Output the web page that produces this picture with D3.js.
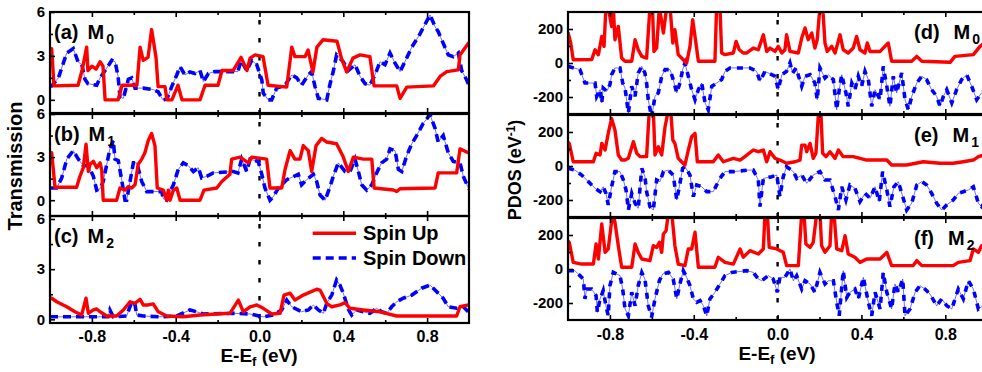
<!DOCTYPE html>
<html>
<head>
<meta charset="utf-8">
<script src="https://cdn.jsdelivr.net/npm/d3@7"></script>
<style>
  body { margin: 0; background: #fff; }
  svg { display: block; font-family: "Liberation Sans", Arial, sans-serif; font-weight: bold; }
</style>
</head>
<body>
<svg id="chart" width="982" height="372"></svg>
<script>
// ---- tick values / labels ----
const energyTicks = [-0.8, -0.4, 0.0, 0.4, 0.8];
const energyMinor = [-0.6, -0.2, 0.2, 0.6];
const transTicks = [0, 3, 6];
const transMinor = [1.5, 4.5];
const pdosTicks = [-200, 0, 200];
const pdosMinor = [-100, 100];
const seriesNames = ["Spin Up", "Spin Down"];
const panelTags = ["(a)", "(b)", "(c)", "(d)", "(e)", "(f)"];
const panelSubs = ["0", "1", "2", "0", "1", "2"];

// ---- transmission, [E-Ef (eV), T] ----
const transUpA = [[-1.0,3.5],[-0.992,3.5],[-0.981,0.95],[-0.866,1.0],[-0.847,2.0],[-0.825,3.6],[-0.819,2.0],[-0.8,2.3],[-0.78,2.1],[-0.761,2.6],[-0.747,2.3],[-0.737,0],[-0.675,0],[-0.656,1.0],[-0.585,1.0],[-0.57,3.6],[-0.555,2.7],[-0.532,2.9],[-0.515,4.8],[-0.494,2.9],[-0.484,0.9],[-0.451,0.9],[-0.442,0],[-0.418,0],[-0.389,1.0],[-0.37,0],[-0.284,0],[-0.26,1.0],[-0.198,1.0],[-0.179,2.0],[-0.126,2.0],[-0.088,2.9],[-0.06,2.0],[-0.045,2.85],[-0.021,3.07],[0.017,2.95],[0.041,1.0],[0.13,0.87],[0.154,3.6],[0.169,2.95],[0.217,2.95],[0.232,3.4],[0.255,1.9],[0.274,3.6],[0.303,4.1],[0.37,4.0],[0.392,2.8],[0.416,1.9],[0.446,2.85],[0.48,3.07],[0.527,2.95],[0.547,0.95],[0.655,0.95],[0.671,0.1],[0.703,0.87],[0.83,0.95],[0.862,1.6],[0.894,1.93],[0.949,2.05],[0.957,3.07],[0.997,3.86],[1.0,3.9]];
const transDownA = [[-1.0,0.95],[-0.992,0.95],[-0.96,1.5],[-0.92,3.2],[-0.889,3.5],[-0.866,2.6],[-0.848,2.4],[-0.833,1.4],[-0.819,1.1],[-0.777,1.0],[-0.761,1.5],[-0.737,2.0],[-0.705,2.7],[-0.689,2.6],[-0.675,1.6],[-0.666,0.2],[-0.65,0.1],[-0.626,1.4],[-0.61,1.5],[-0.594,0.8],[-0.555,0.8],[-0.507,0.7],[-0.484,0.55],[-0.461,0],[-0.442,0.05],[-0.419,0.9],[-0.395,1.7],[-0.379,2.27],[-0.356,1.7],[-0.332,1.9],[-0.308,1.8],[-0.284,2.0],[-0.268,1.25],[-0.244,1.8],[-0.212,1.93],[-0.103,1.93],[-0.088,2.7],[-0.061,2.0],[-0.037,2.7],[-0.013,2.4],[0.011,1.36],[0.018,0.45],[0.042,0],[0.058,0],[0.082,0.8],[0.122,1.0],[0.154,1.7],[0.178,1.5],[0.201,1.0],[0.233,1.7],[0.249,1.93],[0.265,0.9],[0.281,0.1],[0.321,0],[0.337,1.1],[0.352,1.93],[0.368,3.07],[0.4,2.6],[0.424,2.0],[0.456,2.4],[0.48,1.6],[0.504,1.1],[0.527,1.0],[0.551,1.7],[0.575,2.6],[0.599,2.4],[0.623,3.2],[0.647,2.5],[0.671,1.93],[0.694,2.6],[0.727,3.6],[0.766,4.5],[0.814,5.8],[0.838,5.0],[0.853,4.66],[0.877,3.86],[0.901,3.07],[0.925,2.95],[0.949,3.2],[0.965,2.0],[0.989,1.36],[1.0,1.0]];
const transUpB = [[-1.0,3.3],[-0.992,3.3],[-0.976,0.9],[-0.873,0.9],[-0.857,1.66],[-0.841,2.26],[-0.828,3.9],[-0.817,2.0],[-0.809,2.5],[-0.793,2.7],[-0.777,2.26],[-0.761,2.6],[-0.753,2.1],[-0.746,0],[-0.682,0],[-0.666,0.85],[-0.642,0.7],[-0.626,0.95],[-0.61,0.85],[-0.594,1.07],[-0.579,2.5],[-0.562,2.86],[-0.547,3.3],[-0.531,4.16],[-0.515,4.64],[-0.499,3.8],[-0.488,0.85],[-0.459,0.7],[-0.443,0],[-0.435,0.7],[-0.427,0],[-0.411,0.7],[-0.395,0.85],[-0.379,0],[-0.284,0],[-0.265,0.7],[-0.204,0.85],[-0.18,1.3],[-0.141,1.8],[-0.133,2.86],[-0.093,3.0],[-0.053,2.6],[-0.037,3.0],[0.034,2.86],[0.05,0.85],[0.106,0.85],[0.122,2.14],[0.146,3.45],[0.169,2.86],[0.193,2.86],[0.209,3.8],[0.233,3.45],[0.249,2.0],[0.27,3.8],[0.297,4.3],[0.321,4.05],[0.368,3.93],[0.4,3.0],[0.424,2.0],[0.448,3.0],[0.495,2.86],[0.536,2.86],[0.547,0.85],[0.639,0.71],[0.655,0.6],[0.671,0.8],[0.838,0.85],[0.853,1.9],[0.941,1.9],[0.957,3.57],[0.997,3.3],[1.0,3.3]];
const transDownB = [[-1.0,0.85],[-0.968,0.85],[-0.944,1.55],[-0.92,2.86],[-0.889,3.45],[-0.865,2.86],[-0.841,2.4],[-0.817,2.4],[-0.793,1.66],[-0.777,0.7],[-0.761,0.8],[-0.746,1.3],[-0.729,2.5],[-0.714,3.57],[-0.698,4.16],[-0.69,2.86],[-0.674,2.75],[-0.658,1.43],[-0.642,0],[-0.634,0],[-0.618,1.3],[-0.602,2.6],[-0.586,2.6],[-0.562,1.3],[-0.538,0.6],[-0.467,0.6],[-0.459,0.1],[-0.443,0],[-0.427,0.6],[-0.411,1.07],[-0.388,2.14],[-0.364,2.6],[-0.34,2.4],[-0.316,2.0],[-0.292,2.26],[-0.276,1.55],[-0.252,1.66],[-0.221,1.9],[-0.125,2.0],[-0.103,1.9],[-0.085,2.86],[-0.061,2.0],[-0.045,2.86],[-0.006,2.7],[0.011,1.8],[0.026,0.85],[0.05,0],[0.066,0.25],[0.09,0.85],[0.13,1.43],[0.185,1.8],[0.201,1.07],[0.225,1.43],[0.257,1.8],[0.273,1.3],[0.289,0.36],[0.313,0],[0.337,0.95],[0.352,1.66],[0.376,2.6],[0.408,2.0],[0.432,2.0],[0.456,2.86],[0.472,2.0],[0.488,1.07],[0.512,0.7],[0.536,1.07],[0.559,1.9],[0.583,2.6],[0.607,2.86],[0.623,3.57],[0.647,3.45],[0.663,2.14],[0.679,2.0],[0.703,3.1],[0.727,3.93],[0.75,4.5],[0.782,5.36],[0.814,5.95],[0.838,5.0],[0.853,4.05],[0.877,4.5],[0.901,3.3],[0.925,2.7],[0.957,2.6],[0.973,1.66],[0.997,0.85],[1.0,0.8]];
const transUpC = [[-1.0,1.3],[-0.992,1.26],[-0.968,1.05],[-0.92,0.75],[-0.881,0.45],[-0.849,0.26],[-0.828,1.26],[-0.817,0.36],[-0.793,0.56],[-0.777,0.62],[-0.761,0.45],[-0.729,0.2],[-0.682,0.2],[-0.65,0.56],[-0.618,1.05],[-0.594,0.96],[-0.57,1.2],[-0.555,0.86],[-0.531,0.86],[-0.507,0.92],[-0.483,0.45],[-0.443,0.2],[-0.364,0.15],[-0.284,0.26],[-0.204,0.32],[-0.141,0.36],[-0.101,1.15],[-0.077,0.45],[-0.045,0.75],[-0.013,0.86],[0.018,0.66],[0.058,0.32],[0.098,0.36],[0.117,1.45],[0.146,1.56],[0.169,1.15],[0.209,1.45],[0.273,1.8],[0.289,1.75],[0.321,0.96],[0.345,0.75],[0.384,0.86],[0.408,1.0],[0.432,0.66],[0.495,0.56],[0.575,0.45],[0.655,0.2],[0.941,0.2],[0.957,0.75],[0.997,0.86],[1.0,0.86]];
const transDownC = [[-1.0,0.15],[-0.761,0.15],[-0.723,0.15],[-0.714,0.56],[-0.698,0.15],[-0.634,0.2],[-0.61,1.05],[-0.594,0.86],[-0.586,0.26],[-0.555,0.2],[-0.475,0.15],[-0.395,0.2],[-0.332,0.56],[-0.3,0.45],[-0.268,0.32],[-0.125,0.36],[-0.045,0.32],[0.018,0.15],[0.066,0.26],[0.106,0.56],[0.13,1.15],[0.154,0.75],[0.201,0.45],[0.233,0.56],[0.257,0.86],[0.281,0.56],[0.305,0.36],[0.321,0.96],[0.345,1.45],[0.368,2.35],[0.384,2.05],[0.4,1.56],[0.424,0.6],[0.44,0.26],[0.464,0.56],[0.495,0.45],[0.527,0.36],[0.559,0.66],[0.583,0.45],[0.607,0.36],[0.631,0.75],[0.655,1.05],[0.686,1.26],[0.727,1.45],[0.774,1.86],[0.814,2.05],[0.846,1.65],[0.877,1.26],[0.901,0.75],[0.941,0.66],[0.973,0.75],[0.997,0.45],[1.0,0.45]];

// ---- PDOS, [E-Ef (eV), states/eV] ----
const pdosUpD = [[-1.0,180],[-0.999,176],[-0.987,118],[-0.975,19],[-0.887,20],[-0.871,78],[-0.855,49],[-0.839,156],[-0.828,98],[-0.819,330],[-0.808,330],[-0.792,215],[-0.784,330],[-0.776,137],[-0.76,215],[-0.744,29],[-0.728,10],[-0.696,10],[-0.68,137],[-0.665,78],[-0.648,39],[-0.625,29],[-0.609,330],[-0.597,330],[-0.59,68],[-0.577,88],[-0.564,330],[-0.545,176],[-0.529,330],[-0.513,330],[-0.5,118],[-0.49,196],[-0.474,49],[-0.45,19],[-0.434,0],[-0.418,98],[-0.405,255],[-0.394,156],[-0.378,10],[-0.299,10],[-0.291,330],[-0.275,330],[-0.267,59],[-0.251,49],[-0.211,59],[-0.198,127],[-0.183,78],[-0.164,59],[-0.147,59],[-0.116,88],[-0.092,78],[-0.068,166],[-0.052,68],[-0.036,88],[-0.012,68],[0.003,98],[0.02,59],[0.035,78],[0.043,166],[0.059,68],[0.099,59],[0.115,147],[0.131,206],[0.146,137],[0.163,176],[0.178,88],[0.189,137],[0.202,330],[0.215,330],[0.226,118],[0.237,68],[0.258,98],[0.274,59],[0.298,166],[0.313,78],[0.337,59],[0.361,88],[0.377,156],[0.393,78],[0.417,59],[0.428,118],[0.441,68],[0.489,68],[0.528,118],[0.544,10],[0.64,10],[0.664,39],[0.688,10],[0.823,4],[0.846,39],[0.934,49],[0.966,98],[1.0,130]];
const pdosDownD = [[-1.0,-20],[-0.999,-20],[-0.943,-39],[-0.919,-118],[-0.895,-118],[-0.871,-118],[-0.863,-196],[-0.847,-157],[-0.839,-235],[-0.832,-147],[-0.815,-167],[-0.8,-128],[-0.792,-69],[-0.776,-29],[-0.752,-29],[-0.739,-118],[-0.728,-147],[-0.712,-294],[-0.696,-137],[-0.68,-196],[-0.665,-59],[-0.648,-20],[-0.633,-59],[-0.625,-118],[-0.617,-216],[-0.601,-320],[-0.585,-196],[-0.569,-176],[-0.553,-78],[-0.537,-39],[-0.513,-39],[-0.498,-98],[-0.481,-176],[-0.466,-118],[-0.453,-39],[-0.442,0],[-0.426,-78],[-0.41,-157],[-0.394,-216],[-0.378,-157],[-0.362,-118],[-0.346,-235],[-0.331,-275],[-0.314,-137],[-0.291,-118],[-0.267,-98],[-0.251,-49],[-0.227,-29],[-0.132,-29],[-0.1,-49],[-0.084,-108],[-0.06,-49],[-0.028,-69],[-0.012,-78],[0.003,-157],[0.02,-69],[0.043,-49],[0.059,0],[0.072,-59],[0.088,-29],[0.115,-137],[0.131,-78],[0.155,-69],[0.178,-118],[0.189,-216],[0.202,-29],[0.226,-88],[0.242,-69],[0.266,-98],[0.282,-275],[0.294,-157],[0.306,-69],[0.326,-176],[0.337,-255],[0.354,-118],[0.369,-157],[0.385,-78],[0.401,-137],[0.417,-49],[0.433,-98],[0.449,-255],[0.465,-157],[0.489,-216],[0.504,-20],[0.521,-137],[0.536,-255],[0.552,-78],[0.568,-176],[0.592,-59],[0.608,-216],[0.624,-275],[0.64,-196],[0.664,-118],[0.688,-78],[0.711,-98],[0.735,-157],[0.759,-196],[0.775,-255],[0.791,-196],[0.807,-157],[0.831,-235],[0.854,-157],[0.878,-98],[0.902,-69],[0.926,-137],[0.95,-216],[0.973,-176],[1.0,-150]];
const pdosUpE = [[-1.0,140],[-0.994,133],[-0.975,25],[-0.879,25],[-0.866,75],[-0.847,65],[-0.839,133],[-0.823,94],[-0.808,192],[-0.792,280],[-0.776,212],[-0.76,65],[-0.744,35],[-0.728,35],[-0.712,45],[-0.688,143],[-0.672,75],[-0.656,55],[-0.625,55],[-0.612,330],[-0.593,330],[-0.585,65],[-0.569,113],[-0.553,65],[-0.537,231],[-0.521,330],[-0.51,330],[-0.5,153],[-0.49,133],[-0.474,45],[-0.458,25],[-0.442,6],[-0.426,94],[-0.41,172],[-0.394,192],[-0.383,25],[-0.307,25],[-0.283,65],[-0.259,25],[-0.211,45],[-0.179,35],[-0.156,55],[-0.116,94],[-0.092,84],[-0.068,94],[-0.052,25],[-0.036,84],[-0.012,45],[0.011,35],[0.043,16],[0.083,25],[0.107,35],[0.115,123],[0.131,123],[0.139,84],[0.155,133],[0.17,45],[0.183,75],[0.196,330],[0.206,330],[0.215,75],[0.231,55],[0.25,84],[0.274,45],[0.29,94],[0.313,55],[0.361,55],[0.425,35],[0.521,35],[0.544,6],[0.616,6],[0.695,25],[0.775,16],[0.838,16],[0.886,25],[0.934,35],[0.958,55],[1.0,70]];
const pdosDownE = [[-1.0,-14],[-0.999,-14],[-0.967,-24],[-0.935,-53],[-0.903,-92],[-0.871,-131],[-0.847,-151],[-0.832,-122],[-0.819,-161],[-0.808,-229],[-0.792,-122],[-0.776,-33],[-0.752,-33],[-0.736,-82],[-0.723,-141],[-0.712,-259],[-0.696,-161],[-0.68,-219],[-0.665,-249],[-0.648,-14],[-0.633,-63],[-0.625,-151],[-0.609,-239],[-0.593,-259],[-0.577,-82],[-0.561,-92],[-0.545,-33],[-0.521,-24],[-0.498,-53],[-0.481,-200],[-0.466,-102],[-0.453,-14],[-0.442,-4],[-0.418,-53],[-0.402,-180],[-0.386,-112],[-0.362,-122],[-0.338,-151],[-0.307,-151],[-0.291,-112],[-0.275,-73],[-0.251,-33],[-0.211,-33],[-0.14,-24],[-0.116,-24],[-0.092,-82],[-0.084,-239],[-0.068,-73],[-0.028,-63],[-0.004,-53],[0.011,-180],[0.027,-63],[0.043,-4],[0.075,-33],[0.091,-73],[0.115,-53],[0.139,-102],[0.17,-53],[0.202,-33],[0.226,-82],[0.25,-82],[0.274,-180],[0.29,-259],[0.306,-122],[0.326,-200],[0.345,-112],[0.369,-131],[0.393,-210],[0.417,-161],[0.441,-190],[0.465,-122],[0.485,-210],[0.501,-33],[0.521,-141],[0.536,-239],[0.555,-122],[0.576,-92],[0.597,-180],[0.616,-259],[0.64,-219],[0.664,-112],[0.688,-92],[0.711,-112],[0.735,-161],[0.759,-219],[0.783,-259],[0.807,-229],[0.838,-200],[0.862,-161],[0.886,-151],[0.91,-141],[0.934,-122],[0.958,-219],[0.973,-239],[1.0,-200]];
const pdosUpF = [[-1.0,165],[-0.994,157],[-0.975,39],[-0.935,29],[-0.879,29],[-0.866,147],[-0.855,59],[-0.839,265],[-0.823,98],[-0.808,118],[-0.787,330],[-0.776,275],[-0.76,137],[-0.744,10],[-0.696,10],[-0.68,147],[-0.665,98],[-0.648,59],[-0.609,49],[-0.593,137],[-0.577,127],[-0.564,157],[-0.553,98],[-0.545,206],[-0.532,225],[-0.521,330],[-0.505,330],[-0.49,137],[-0.474,29],[-0.442,20],[-0.426,118],[-0.41,118],[-0.394,216],[-0.378,10],[-0.299,10],[-0.283,69],[-0.251,39],[-0.211,29],[-0.179,118],[-0.164,69],[-0.14,98],[-0.132,108],[-0.092,88],[-0.068,118],[-0.06,330],[-0.049,330],[-0.04,127],[-0.004,118],[0.027,98],[0.043,20],[0.099,20],[0.115,330],[0.126,330],[0.135,147],[0.155,127],[0.17,157],[0.187,330],[0.202,330],[0.21,137],[0.226,98],[0.25,137],[0.258,330],[0.269,330],[0.282,118],[0.306,108],[0.322,196],[0.337,88],[0.369,69],[0.393,39],[0.425,59],[0.489,59],[0.521,98],[0.544,20],[0.647,20],[0.664,49],[0.688,20],[0.838,20],[0.862,39],[0.918,49],[0.934,118],[0.958,98],[0.973,137],[1.0,120]];
const pdosDownF = [[-1.0,-10],[-0.967,-10],[-0.943,-39],[-0.927,-59],[-0.919,-176],[-0.911,-118],[-0.887,-118],[-0.866,-157],[-0.86,-255],[-0.847,-176],[-0.832,-127],[-0.819,-216],[-0.808,-275],[-0.8,-98],[-0.784,-20],[-0.752,-39],[-0.739,-118],[-0.728,-235],[-0.712,-275],[-0.696,-137],[-0.68,-216],[-0.665,-98],[-0.648,-20],[-0.633,-59],[-0.617,-216],[-0.601,-284],[-0.585,-176],[-0.564,-69],[-0.548,-29],[-0.521,-20],[-0.498,-59],[-0.481,-176],[-0.466,-88],[-0.45,-10],[-0.434,-49],[-0.418,-98],[-0.402,-176],[-0.386,-196],[-0.37,-186],[-0.354,-216],[-0.338,-275],[-0.323,-176],[-0.299,-137],[-0.275,-88],[-0.251,-39],[-0.219,-20],[-0.147,-10],[-0.116,-20],[-0.092,-59],[-0.076,-69],[-0.044,-39],[-0.021,-59],[-0.001,-137],[0.011,-49],[0.035,-49],[0.059,0],[0.075,-69],[0.091,-39],[0.115,-118],[0.131,-69],[0.155,-88],[0.178,-137],[0.202,-20],[0.226,-88],[0.242,-69],[0.266,-69],[0.282,-196],[0.294,-275],[0.313,-10],[0.33,-167],[0.345,-137],[0.369,-118],[0.385,-176],[0.409,-49],[0.433,-196],[0.449,-275],[0.465,-137],[0.489,-235],[0.504,-20],[0.521,-137],[0.544,-235],[0.56,-88],[0.576,-137],[0.597,-59],[0.608,-275],[0.632,-235],[0.656,-137],[0.679,-98],[0.703,-118],[0.727,-147],[0.759,-216],[0.783,-176],[0.807,-216],[0.831,-235],[0.862,-118],[0.886,-176],[0.91,-69],[0.934,-118],[0.958,-235],[1.0,-200]];

// ---- layout ----
const svg = d3.select("#chart");
const RED = "#ff0000", BLUE = "#0000ff";
const fmtE = d => d.toFixed(1);

const panels = [
  { tag: 0, col: 0, y0: 12,  y1: 113, dom: [-0.9, 6.0],  up: transUpA, down: transDownA, last: false },
  { tag: 1, col: 0, y0: 114, y1: 216, dom: [-1.1, 6.0],  up: transUpB, down: transDownB, last: false },
  { tag: 2, col: 0, y0: 216, y1: 323, dom: [-0.22, 6.18], up: transUpC, down: transDownC, last: true },
  { tag: 3, col: 1, y0: 12,  y1: 114, dom: [-300, 300],  up: pdosUpD, down: pdosDownD, last: false },
  { tag: 4, col: 1, y0: 115, y1: 217, dom: [-300, 300],  up: pdosUpE, down: pdosDownE, last: false },
  { tag: 5, col: 1, y0: 218, y1: 320, dom: [-300, 300],  up: pdosUpF, down: pdosDownF, last: true }
];
const cols = [
  { x0: 50, x1: 469, yTicks: transTicks, yMinor: transMinor, dash: "8,5", labelX: 54, mGap: 9 },
  { x0: 568, x1: 987.2, yTicks: pdosTicks, yMinor: pdosMinor, dash: "6,6", labelX: 914, mGap: 14 }
];

panels.forEach((p, i) => {
  const c = cols[p.col];
  const x = d3.scaleLinear().domain([-1, 1]).range([c.x0, c.x1]);
  const y = d3.scaleLinear().domain(p.dom).range([p.y1, p.y0]);
  const clipId = "clip" + i;

  svg.append("clipPath").attr("id", clipId)
    .append("rect").attr("x", c.x0).attr("y", p.y0)
    .attr("width", c.x1 - c.x0).attr("height", p.y1 - p.y0);

  const g = svg.append("g");
  const plot = g.append("g").attr("clip-path", `url(#${clipId})`);

  // Fermi level marker
  plot.append("line")
    .attr("x1", x(0)).attr("x2", x(0))
    .attr("y1", p.y0 + 8).attr("y2", p.y1)
    .attr("stroke", "#000").attr("stroke-width", 2.4)
    .attr("stroke-dasharray", "4.5,13.5");

  const line = d3.line().x(d => x(d[0])).y(d => y(d[1]));

  // spin down: faint trace under thick dashes
  plot.append("path").datum(p.down).attr("d", line)
    .attr("fill", "none").attr("stroke", BLUE).attr("stroke-width", 0.8)
    .attr("stroke-opacity", 0.7);
  plot.append("path").datum(p.down).attr("d", line)
    .attr("fill", "none").attr("stroke", BLUE).attr("stroke-width", 3.6)
    .attr("stroke-dasharray", c.dash);

  plot.append("path").datum(p.up).attr("d", line)
    .attr("fill", "none").attr("stroke", RED).attr("stroke-width", 3.4)
    .attr("stroke-linejoin", "round");

  // ticks, all pointing inward
  const axisStyle = sel => {
    sel.select(".domain").remove();
    sel.selectAll("line").attr("stroke", "#000").attr("stroke-width", 1.6);
    sel.selectAll("text").attr("fill", "#000");
    sel.attr("font-family", null);
  };
  g.append("g").attr("transform", `translate(0,${p.y0})`)
    .call(d3.axisTop(x).tickValues(energyTicks).tickSize(-5).tickFormat(""))
    .call(axisStyle);
  g.append("g").attr("transform", `translate(0,${p.y0})`)
    .call(d3.axisTop(x).tickValues(energyMinor).tickSize(-3).tickFormat(""))
    .call(axisStyle);
  g.append("g").attr("transform", `translate(0,${p.y1})`)
    .call(d3.axisBottom(x).tickValues(energyTicks).tickSize(-5)
      .tickPadding(p.col === 0 ? 8 : 9).tickFormat(p.last ? fmtE : ""))
    .call(axisStyle)
    .attr("font-size", 16);
  g.append("g").attr("transform", `translate(0,${p.y1})`)
    .call(d3.axisBottom(x).tickValues(energyMinor).tickSize(-3).tickFormat(""))
    .call(axisStyle);
  g.append("g").attr("transform", `translate(${c.x0},0)`)
    .call(d3.axisLeft(y).tickValues(c.yTicks).tickSize(-5).tickPadding(5).tickFormat(d => String(d)))
    .call(axisStyle)
    .attr("font-size", 15);
  g.append("g").attr("transform", `translate(${c.x0},0)`)
    .call(d3.axisLeft(y).tickValues(c.yMinor).tickSize(-3).tickFormat(""))
    .call(axisStyle);

  // frame
  g.append("rect")
    .attr("x", c.x0).attr("y", p.y0)
    .attr("width", c.x1 - c.x0).attr("height", p.y1 - p.y0)
    .attr("fill", "none").attr("stroke", "#000").attr("stroke-width", 2.2);

  // panel label
  const t = g.append("text").attr("x", c.labelX).attr("y", p.y0 + 27)
    .attr("font-size", 20).attr("fill", "#000");
  t.append("tspan").text(panelTags[p.tag]);
  t.append("tspan").attr("dx", c.mGap).text("M");
  t.append("tspan").attr("dx", 2).attr("dy", 5).attr("font-size", 14).text(panelSubs[p.tag]);
});

// legend (panel c)
const legend = svg.append("g");
const legendRows = [
  { name: seriesNames[0], color: RED, dash: null, y: 233.3 },
  { name: seriesNames[1], color: BLUE, dash: "8,5", y: 258 }
];
legendRows.forEach(r => {
  legend.append("line").attr("x1", 312.7).attr("x2", 356).attr("y1", r.y).attr("y2", r.y)
    .attr("stroke", r.color).attr("stroke-width", 3.4)
    .attr("stroke-dasharray", r.dash);
  legend.append("text").attr("x", 363).attr("y", r.y + 7).attr("font-size", 20)
    .attr("fill", "#000").text(r.name);
});

// axis titles
const xTitle = (cx, by) => {
  const t = svg.append("text").attr("x", cx).attr("y", by).attr("text-anchor", "middle")
    .attr("font-size", 19).attr("fill", "#000");
  t.append("tspan").text("E-E");
  t.append("tspan").attr("dy", 4).attr("font-size", 13).text("f");
  t.append("tspan").attr("dy", -4).text(" (eV)");
};
xTitle(259, 362);
xTitle(777, 360);

svg.append("text").attr("transform", "translate(22,166) rotate(-90)")
  .attr("text-anchor", "middle").attr("font-size", 20).attr("fill", "#000")
  .text("Transmission");

const yt = svg.append("text").attr("transform", "translate(521,170) rotate(-90)")
  .attr("text-anchor", "middle").attr("font-size", 18).attr("fill", "#000");
yt.append("tspan").text("PDOS (eV");
yt.append("tspan").attr("dy", -6).attr("font-size", 12).text("-1");
yt.append("tspan").attr("dy", 6).text(")");
</script>
</body>
</html>
